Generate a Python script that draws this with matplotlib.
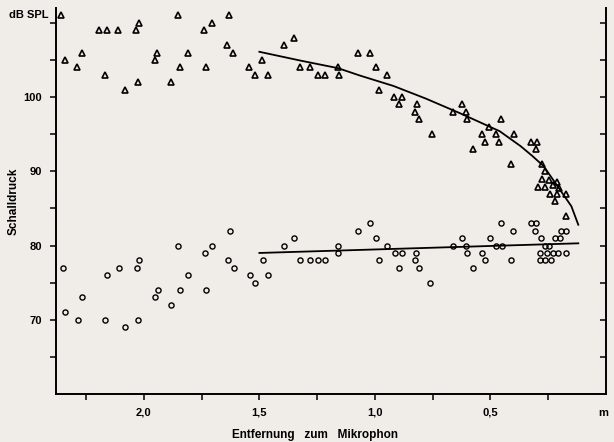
import numpy as np
import matplotlib.pyplot as plt

#####################################
# data (distance in m, level in dB SPL)

tri_d = [2.357, 2.339, 2.287, 2.269, 2.193, 2.168, 2.158, 2.111, 2.083, 2.035,
         2.027, 2.021, 1.953, 1.942, 1.883, 1.854, 1.845, 1.808, 1.740, 1.731,
         1.707, 1.638, 1.630, 1.612, 1.543, 1.517, 1.487, 1.462, 1.393, 1.350,
         1.324, 1.280, 1.247, 1.218, 1.161, 1.157, 1.073, 1.022, 0.996, 0.984,
         0.946, 0.917, 0.884, 0.896, 0.820, 0.826, 0.810, 0.754, 0.664, 0.625,
         0.607, 0.600, 0.577, 0.538, 0.524, 0.505, 0.477, 0.464, 0.456, 0.400,
         0.412, 0.326, 0.298, 0.305, 0.279, 0.262, 0.279, 0.248, 0.294, 0.262,
         0.231, 0.213, 0.205, 0.242, 0.212, 0.173, 0.219, 0.173]
tri_db = [111, 105, 104, 106, 109, 103, 109, 109, 101, 109,
          102, 110, 105, 106, 102, 111, 104, 106, 109, 104,
          110, 107, 111, 106, 104, 103, 105, 103, 107, 108,
          104, 104, 103, 103, 104, 103, 106, 106, 104, 101,
          103, 100, 100, 99, 99, 98, 97, 95, 98, 99,
          98, 97, 93, 95, 94, 96, 95, 94, 97, 95,
          91, 94, 94, 93, 91, 90, 89, 88.8, 87.9, 87.9,
          88.1, 88.6, 87.7, 87, 87, 87, 86, 84]

circ_d = [2.349, 2.339, 2.283, 2.266, 2.169, 2.159, 2.109, 2.081, 2.031, 2.027,
          2.019, 1.952, 1.939, 1.884, 1.850, 1.842, 1.807, 1.736, 1.733, 1.707,
          1.636, 1.625, 1.611, 1.540, 1.519, 1.485, 1.462, 1.393, 1.350, 1.323,
          1.280, 1.245, 1.218, 1.160, 1.160, 1.074, 1.021, 0.996, 0.982, 0.949,
          0.913, 0.896, 0.884, 0.828, 0.822, 0.809, 0.760, 0.662, 0.625, 0.608,
          0.600, 0.577, 0.538, 0.524, 0.504, 0.474, 0.455, 0.448, 0.413, 0.403,
          0.326, 0.302, 0.307, 0.281, 0.265, 0.245, 0.285, 0.256, 0.231, 0.207,
          0.174, 0.285, 0.262, 0.239, 0.220, 0.197, 0.196, 0.174]
circ_db = [77, 71, 70, 73, 70, 76, 77, 69, 77, 70,
           78, 73, 74, 72, 80, 74, 76, 79, 74, 80,
           78, 82, 77, 76, 75, 78, 76, 80, 81, 78,
           78, 78, 78, 80, 79, 82, 83, 81, 78, 80,
           79, 77, 79, 78, 79, 77, 75, 80, 81, 80,
           79, 77, 79, 78, 81, 80, 83, 80, 78, 82,
           83, 83, 82, 81, 80, 80, 79, 79, 79, 79,
           79, 78, 78, 78, 81, 81, 82, 82]

# fitted curves as drawn in the reference
fit_tri_d = [1.50, 1.32, 1.16, 1.065, 0.92, 0.78, 0.63, 0.46, 0.37, 0.32,
             0.27, 0.23, 0.19, 0.15, 0.12]
fit_tri_db = [106.1, 104.9, 103.9, 102.9, 101.5, 99.8, 97.8, 95.4, 93.4, 92.1,
              90.7, 88.9, 87.1, 85.3, 82.8]
fit_circ_d = [1.50, 0.12]
fit_circ_db = [79.0, 80.3]

xtick_vals = [2.25, 2.0, 1.75, 1.5, 1.25, 1.0, 0.75, 0.5, 0.25]
xtick_labels = ['', '2,0', '', '1,5', '', '1,0', '', '0,5', '']
ytick_vals = [65, 70, 75, 80, 85, 90, 95, 100, 105, 110]
ytick_labels = ['', '70', '', '80', '', '90', '', '100', '', '']

#####################################

bg = '#f0ede8'
plt.rcParams['font.family'] = ['Liberation Sans', 'DejaVu Sans']
plt.rcParams['font.weight'] = 'bold'

fig = plt.figure(figsize=(6.14, 4.42), dpi=100, facecolor=bg)
ax = fig.add_axes([0.0912, 0.1086, 0.8958, 0.8733])
ax.set_facecolor(bg)

ax.plot(tri_d, tri_db, linestyle='none', marker='^', markersize=4.3,
        markerfacecolor='none', markeredgecolor='black', markeredgewidth=1.2)
ax.plot(circ_d, circ_db, linestyle='none', marker='o', markersize=3.7,
        markerfacecolor='none', markeredgecolor='black', markeredgewidth=1.0)
ax.plot(fit_tri_d, fit_tri_db, color='black', lw=1.3)
ax.plot(fit_circ_d, fit_circ_db, color='black', lw=1.3)

ax.set_xlim(2.38, 0.0)
ax.set_ylim(60, 112)

ax.set_xticks(xtick_vals)
ax.set_xticklabels(xtick_labels)
ax.set_yticks(ytick_vals)
ax.set_yticklabels(ytick_labels)
ax.tick_params(axis='both', direction='out', length=4, width=1.1,
               labelsize=8, pad=6)

ax.spines['top'].set_visible(False)
ax.spines['right'].set_visible(False)
for s in ['left', 'bottom']:
    ax.spines[s].set_linewidth(1.4)

sec = ax.secondary_yaxis('right')
sec.set_yticks(ytick_vals)
sec.set_yticklabels(['' for _ in ytick_vals])
sec.tick_params(direction='in', length=4, width=1.1)
sec.spines['right'].set_linewidth(1.4)

ax.set_ylabel('Schalldruck', fontsize=8.5, fontweight='bold')
ax.yaxis.set_label_coords(-0.066, 0.5)
ax.set_xlabel('Entfernung   zum   Mikrophon', fontsize=8.5, fontweight='bold')
ax.xaxis.set_label_coords(0.47, -0.106)
ax.xaxis.label.set_va('center')
ax.text(-0.014, 111.1, 'dB SPL', fontsize=8, fontweight='bold',
        ha='right', va='center', transform=ax.get_yaxis_transform())
ax.text(0.01, -0.05, 'm', fontsize=8, fontweight='bold', ha='center',
        va='center', transform=ax.get_xaxis_transform())

plt.savefig('out.png', dpi=100, facecolor=bg)
